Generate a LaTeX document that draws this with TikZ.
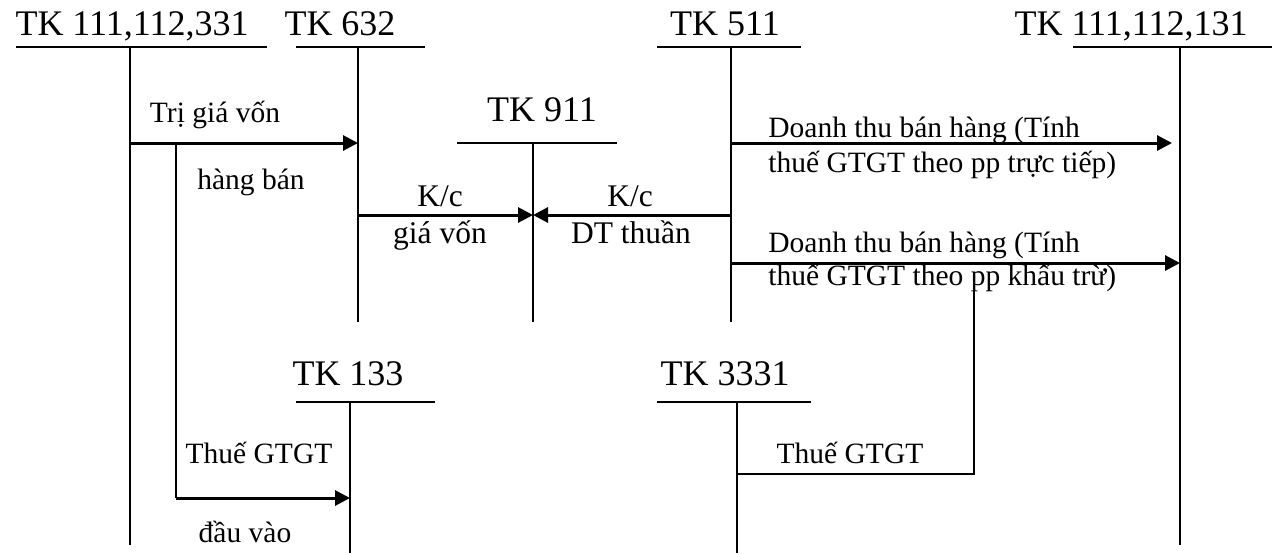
\documentclass[tikz,border=0pt]{standalone}
\usepackage{fontspec}
\setmainfont{Liberation Serif}
\usetikzlibrary{arrows.meta}

\begin{document}
\begin{tikzpicture}[x=0.5pt,y=-0.5pt,
   tk/.style={anchor=base,inner sep=0pt,font=\fontsize{18}{20}\selectfont},
   lbl/.style={anchor=base,inner sep=0pt,font=\fontsize{15.75}{18}\selectfont},
   note/.style={anchor=base,inner sep=0pt,font=\fontsize{14.75}{17}\selectfont},
   notel/.style={note,anchor=base west},
   acc/.style={line width=1pt},
   flow/.style={line width=1.5pt,-{Triangle[length=7.5pt,width=7.5pt]}},
   tax/.style={line width=0.8pt}]
  \useasboundingbox (0,0) rectangle (1278,553);

  % account TK 111,112,331
  \node[tk] (tk331) at (132,35) {TK 111,112,331};
  \coordinate (h331l) at (16,47);  \coordinate (h331r) at (267,47);
  \coordinate (v331t) at (130,47); \coordinate (v331b) at (130,545);
  \draw[acc] (h331l) -- (h331r);
  \draw[acc] (v331t) -- (v331b);

  % account TK 632
  \node[tk] (tk632) at (340,35) {TK 632};
  \coordinate (h632l) at (296,47); \coordinate (h632r) at (425,47);
  \coordinate (v632t) at (358,47); \coordinate (v632b) at (358,322);
  \draw[acc] (h632l) -- (h632r);
  \draw[acc] (v632t) -- (v632b);

  % account TK 911
  \node[tk] (tk911) at (542,121) {TK 911};
  \coordinate (h911l) at (457,143); \coordinate (h911r) at (617,143);
  \coordinate (v911t) at (533,143); \coordinate (v911b) at (533,322);
  \draw[acc] (h911l) -- (h911r);
  \draw[acc] (v911t) -- (v911b);

  % account TK 511
  \node[tk] (tk511) at (725,35) {TK 511};
  \coordinate (h511l) at (657,47); \coordinate (h511r) at (801,47);
  \coordinate (v511t) at (731,47); \coordinate (v511b) at (731,322);
  \draw[acc] (h511l) -- (h511r);
  \draw[acc] (v511t) -- (v511b);

  % account TK 111,112,131
  \node[tk] (tk131) at (1131,35) {TK 111,112,131};
  \coordinate (h131l) at (1073,47); \coordinate (h131r) at (1272,47);
  \coordinate (v131t) at (1180,47); \coordinate (v131b) at (1180,545);
  \draw[acc] (h131l) -- (h131r);
  \draw[acc] (v131t) -- (v131b);

  % account TK 133
  \node[tk] (tk133) at (348,385) {TK 133};
  \coordinate (h133l) at (296,402); \coordinate (h133r) at (435,402);
  \coordinate (v133t) at (350,402); \coordinate (v133b) at (350,553);
  \draw[acc] (h133l) -- (h133r);
  \draw[acc] (v133t) -- (v133b);

  % account TK 3331
  \node[tk] (tk3331) at (725,385) {TK 3331};
  \coordinate (h3331l) at (657,402); \coordinate (h3331r) at (811,402);
  \coordinate (v3331t) at (737,402); \coordinate (v3331b) at (737,553);
  \draw[acc] (h3331l) -- (h3331r);
  \draw[acc] (v3331t) -- (v3331b);

  % cost of goods sold
  \coordinate (gv1) at (130,143); \coordinate (gv2) at (358,143);
  \draw[flow] (gv1) -- (gv2);
  \node[note] (lgv1) at (215,122) {Trị giá vốn};
  \node[note] (lgv2) at (251,189) {hàng bán};

  % input VAT
  \coordinate (vt1) at (176,143); \coordinate (vt2) at (176,498);
  \coordinate (vt3) at (350,498);
  \draw[acc] (vt1) -- (vt2);
  \draw[flow] (vt2) -- (vt3);
  \node[note] (lvt1) at (259,463) {Thuế GTGT};
  \node[note] (lvt2) at (245,542) {đầu vào};

  % closing entries to TK 911
  \coordinate (kc1) at (358,215); \coordinate (kc2) at (533,215);
  \coordinate (kc3) at (731,215);
  \draw[flow] (kc1) -- (kc2);
  \draw[flow] (kc3) -- (kc2);
  \node[lbl] (lkc1) at (440,206) {K/c};
  \node[lbl] (lkc2) at (440,243) {giá vốn};
  \node[lbl] (lkc3) at (630,206) {K/c};
  \node[lbl] (lkc4) at (631,243) {DT thuần};

  % revenue
  \coordinate (dt1) at (731,143); \coordinate (dt2) at (1172,143);
  \coordinate (dt3) at (731,263); \coordinate (dt4) at (1180,263);
  \draw[flow] (dt1) -- (dt2);
  \draw[flow] (dt3) -- (dt4);
  \node[notel] (ldt1) at (768,137) {Doanh thu bán hàng (Tính};
  \node[notel] (ldt2) at (768,172) {thuế GTGT theo pp trực tiếp)};
  \node[notel] (ldt3) at (768,252) {Doanh thu bán hàng (Tính};
  \node[notel] (ldt4) at (768,285) {thuế GTGT theo pp khấu trừ)};

  % output VAT
  \coordinate (ra1) at (974,282); \coordinate (ra2) at (974,474);
  \coordinate (ra3) at (737,474);
  \draw[tax] (ra1) -- (ra2) -- (ra3);
  \node[note] (lra) at (850,463) {Thuế GTGT};
\end{tikzpicture}
\end{document}
